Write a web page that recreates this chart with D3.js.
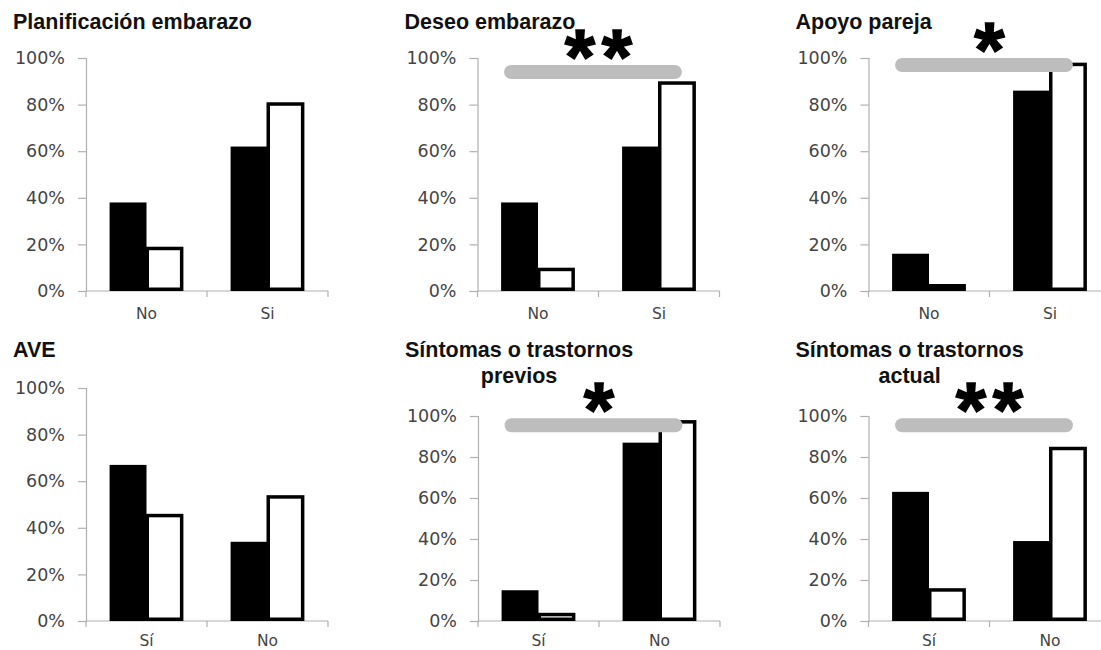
<!DOCTYPE html>
<html>
<head>
<meta charset="utf-8">
<script src="https://cdn.jsdelivr.net/npm/d3@7"></script>
<style>
  html, body { margin: 0; padding: 0; background: #fff; }
  svg { display: block; }
</style>
</head>
<body>
<svg id="chart" width="1101" height="650"></svg>
<script>
// ---------- DATA ----------
const titles = [
  ["Planificación embarazo"],
  ["Deseo embarazo"],
  ["Apoyo pareja"],
  ["AVE"],
  ["Síntomas o trastornos", "previos"],
  ["Síntomas o trastornos", "actual"]
];
const categories = [
  ["No", "Si"],
  ["No", "Si"],
  ["No", "Si"],
  ["Sí", "No"],
  ["Sí", "No"],
  ["Sí", "No"]
];
const seriesNames = ["grupo1", "grupo2"];
const seriesBlack = [
  [38, 62],
  [38, 62],
  [16, 86],
  [67, 34],
  [15, 87],
  [63, 39]
];
const seriesWhite = [
  [19, 81],
  [10, 90],
  [3, 98],
  [46, 54],
  [4, 98],
  [16, 85]
];
const significance = ["", "**", "*", "", "*", "**"];
const sigLevel = [null, 94, 97, null, 95.5, 95.5];
const yTicks = [0, 20, 40, 60, 80, 100];

// ---------- LAYOUT ----------
const panels = [
  { ox: 86,    yTop: 58,  yBot: 291, titleY: 29, labY: 28 },
  { ox: 477.5, yTop: 58,  yBot: 291, titleY: 29, labY: 28 },
  { ox: 868.5, yTop: 58,  yBot: 291, titleY: 29, labY: 28 },
  { ox: 86,    yTop: 388, yBot: 621, titleY: 357, labY: 25 },
  { ox: 478,   yTop: 416, yBot: 621, titleY: 357, labY: 25 },
  { ox: 868.5, yTop: 416, yBot: 621, titleY: 357, labY: 25 }
];
const W = 242;
const sw = 3.5;

const svg = d3.select("#chart");

panels.forEach((p, i) => {
  const g = svg.append("g").attr("transform", `translate(${p.ox},0)`);

  const y = d3.scaleLinear().domain([0, 100]).range([p.yBot, p.yTop]);
  const x0 = d3.scaleBand().domain(categories[i]).range([0, W])
    .paddingInner(0.39).paddingOuter(0.195);
  const x1 = d3.scaleBand().domain(seriesNames).range([0, x0.bandwidth()]);

  // Title
  const t = g.append("text")
    .attr("x", -73).attr("y", p.titleY)
    .attr("font-family", "Liberation Sans, Arial, sans-serif")
    .attr("font-weight", "bold")
    .attr("font-size", 21.5)
    .attr("fill", "#111")
    .text(titles[i][0]);
  if (titles[i].length > 1) {
    const len = t.node().getComputedTextLength();
    g.append("text")
      .attr("x", -73 + len / 2).attr("y", p.titleY + 26)
      .attr("text-anchor", "middle")
      .attr("font-family", "Liberation Sans, Arial, sans-serif")
      .attr("font-weight", "bold")
      .attr("font-size", 21.5)
      .attr("fill", "#111")
      .text(titles[i][1]);
  }

  // Y axis
  const yAxis = d3.axisLeft(y).tickValues(yTicks)
    .tickFormat(d => d + "%").tickSize(8).tickPadding(13);
  const ya = g.append("g").call(yAxis);
  ya.select(".domain").attr("stroke", "#b0b0b0").attr("stroke-width", 1.2);
  ya.selectAll(".tick line").attr("stroke", "#b0b0b0").attr("stroke-width", 1.2);
  ya.selectAll(".tick text")
    .attr("font-family", "DejaVu Sans, sans-serif")
    .attr("font-size", 17.5)
    .attr("fill", "#444");

  // X axis
  const xa = g.append("g").attr("transform", `translate(0,${p.yBot})`);
  xa.append("line").attr("x1", 0).attr("x2", W).attr("y1", 0).attr("y2", 0)
    .attr("stroke", "#b0b0b0").attr("stroke-width", 1.2);
  [0, W / 2, W].forEach(tx => {
    xa.append("line").attr("x1", tx).attr("x2", tx).attr("y1", 0).attr("y2", 6)
      .attr("stroke", "#b0b0b0").attr("stroke-width", 1.2);
  });
  categories[i].forEach(c => {
    xa.append("text")
      .attr("x", x0(c) + x0.bandwidth() / 2).attr("y", p.labY)
      .attr("text-anchor", "middle")
      .attr("font-family", "DejaVu Sans, sans-serif")
      .attr("font-size", 15.5)
      .attr("fill", "#444")
      .text(c);
  });

  // Bars
  const groups = g.selectAll(".grp").data(categories[i]).enter().append("g")
    .attr("transform", c => `translate(${x0(c)},0)`);
  groups.append("rect")
    .attr("x", x1("grupo1"))
    .attr("y", (c, j) => y(seriesBlack[i][j]))
    .attr("width", x1.bandwidth())
    .attr("height", (c, j) => y(0) - y(seriesBlack[i][j]))
    .attr("fill", "#000");
  groups.append("rect")
    .attr("x", x1("grupo2") + sw / 2 - 1)
    .attr("y", (c, j) => y(seriesWhite[i][j]) + sw / 2)
    .attr("width", x1.bandwidth() - sw + 1)
    .attr("height", (c, j) => Math.max(0, y(0) - y(seriesWhite[i][j]) - sw))
    .attr("fill", "#fff")
    .attr("stroke", "#000")
    .attr("stroke-width", sw);

  // Significance
  if (significance[i]) {
    const c0 = categories[i][0], c1 = categories[i][1];
    const ly = y(sigLevel[i]);
    g.append("line")
      .attr("x1", x0(c0) + 10).attr("x2", x0(c1) + x0.bandwidth() - 21)
      .attr("y1", ly).attr("y2", ly)
      .attr("stroke", "#bdbdbd").attr("stroke-width", 14)
      .attr("stroke-linecap", "round");
    const stars = significance[i].split("");
    const cx = W / 2;
    stars.forEach((s, k) => {
      const off = (k - (stars.length - 1) / 2) * 37;
      g.append("text")
        .attr("x", cx + off).attr("y", ly + 12)
        .attr("text-anchor", "middle")
        .attr("font-family", "Liberation Sans, Arial, sans-serif")
        .attr("font-weight", "bold")
        .attr("font-size", 78)
        .attr("stroke", "#000")
        .attr("stroke-width", 1.5)
        .attr("fill", "#000")
        .text(s);
    });
  }
});
</script>
</body>
</html>
